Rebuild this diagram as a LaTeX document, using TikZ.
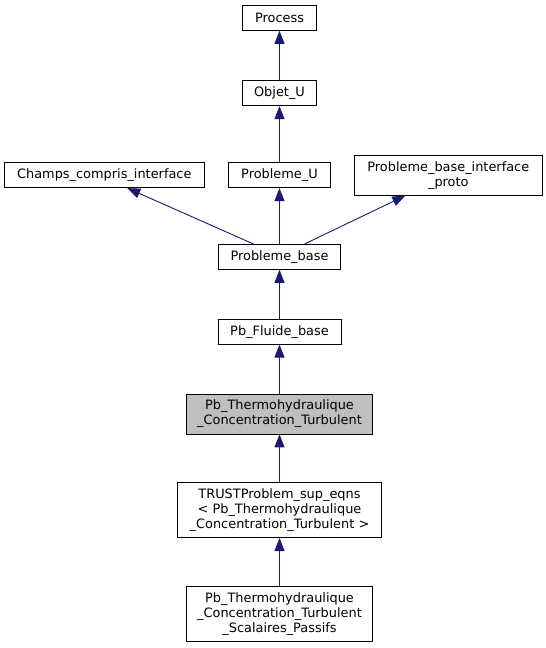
\documentclass[tikz,border=0pt]{standalone}
\usepackage{fontspec}
\setmainfont{DejaVu Sans}
\usepackage{xcolor}
\definecolor{edgeblue}{HTML}{191970}
\definecolor{curgray}{HTML}{BFBFBF}
\usetikzlibrary {positioning,arrows.meta}

\begin{document}
\begin{tikzpicture}[auto ,on grid ,
inherit/.style ={-{Triangle[length=13bp,width=10bp]} ,draw=edgeblue ,line width=0.9bp},
cls/.style ={ rectangle ,fill =white ,draw ,line width=0.8bp ,inner sep=0pt ,
align=center ,font=\fontsize{12.9bp}{15bp}\selectfont, minimum height =25bp},
current/.style ={cls ,fill =curgray}]
\useasboundingbox (0,0) rectangle (546bp,-648bp);
\node[cls, minimum width=74.6bp] (Process) at (279.5bp,-17.9bp) {Process};
\node[cls, minimum width=74.6bp] (ObjetU) [below=75.3bp of Process] {Objet\_U};
\node[cls, minimum width=101.3bp] (ProblemeU) [below=82bp of ObjetU] {Probleme\_U};
\node[cls, minimum width=199.5bp] (ChampsComprisInterface) [left=175.2bp of ProblemeU] {Champs\_compris\_interface};
\node[cls, minimum width=187.4bp, minimum height=40bp] (ProblemeBaseInterfaceProto) [right=168.8bp of ProblemeU] {Probleme\_base\_interface\\\_proto};
\node[cls, minimum width=122.2bp] (ProblemeBase) [below=81.7bp of ProblemeU] {Probleme\_base};
\node[cls, minimum width=123bp] (PbFluideBase) [below=74.8bp of ProblemeBase] {Pb\_Fluide\_base};
\node[current, minimum width=186.7bp, minimum height=40bp] (PbThermoConcTurb) [below=82.2bp of PbFluideBase] {Pb\_Thermohydraulique\\\_Concentration\_Turbulent};
\node[cls, minimum width=203.3bp, minimum height=55bp] (TrustSupEqns) [below=96.2bp of PbThermoConcTurb] {TRUSTProblem\_sup\_eqns\\< Pb\_Thermohydraulique\\\_Concentration\_Turbulent >};
\node[cls, minimum width=186.7bp, minimum height=55bp] (PbThermoScalPassifs) [below=104bp of TrustSupEqns] {Pb\_Thermohydraulique\\\_Concentration\_Turbulent\\\_Scalaires\_Passifs};

\path (ObjetU) edge[inherit] (Process);
\path (ProblemeU) edge[inherit] (ObjetU);
\path (ProblemeBase) edge[inherit] (ProblemeU);
\path ([xshift=-26bp]ProblemeBase.north) edge[inherit] ([xshift=23bp]ChampsComprisInterface.south);
\path ([xshift=25bp]ProblemeBase.north) edge[inherit] ([xshift=-43bp]ProblemeBaseInterfaceProto.south);
\path (PbFluideBase) edge[inherit] (ProblemeBase);
\path (PbThermoConcTurb) edge[inherit] (PbFluideBase);
\path (TrustSupEqns) edge[inherit] (PbThermoConcTurb);
\path (PbThermoScalPassifs) edge[inherit] (TrustSupEqns);
\end{tikzpicture}
\end{document}
